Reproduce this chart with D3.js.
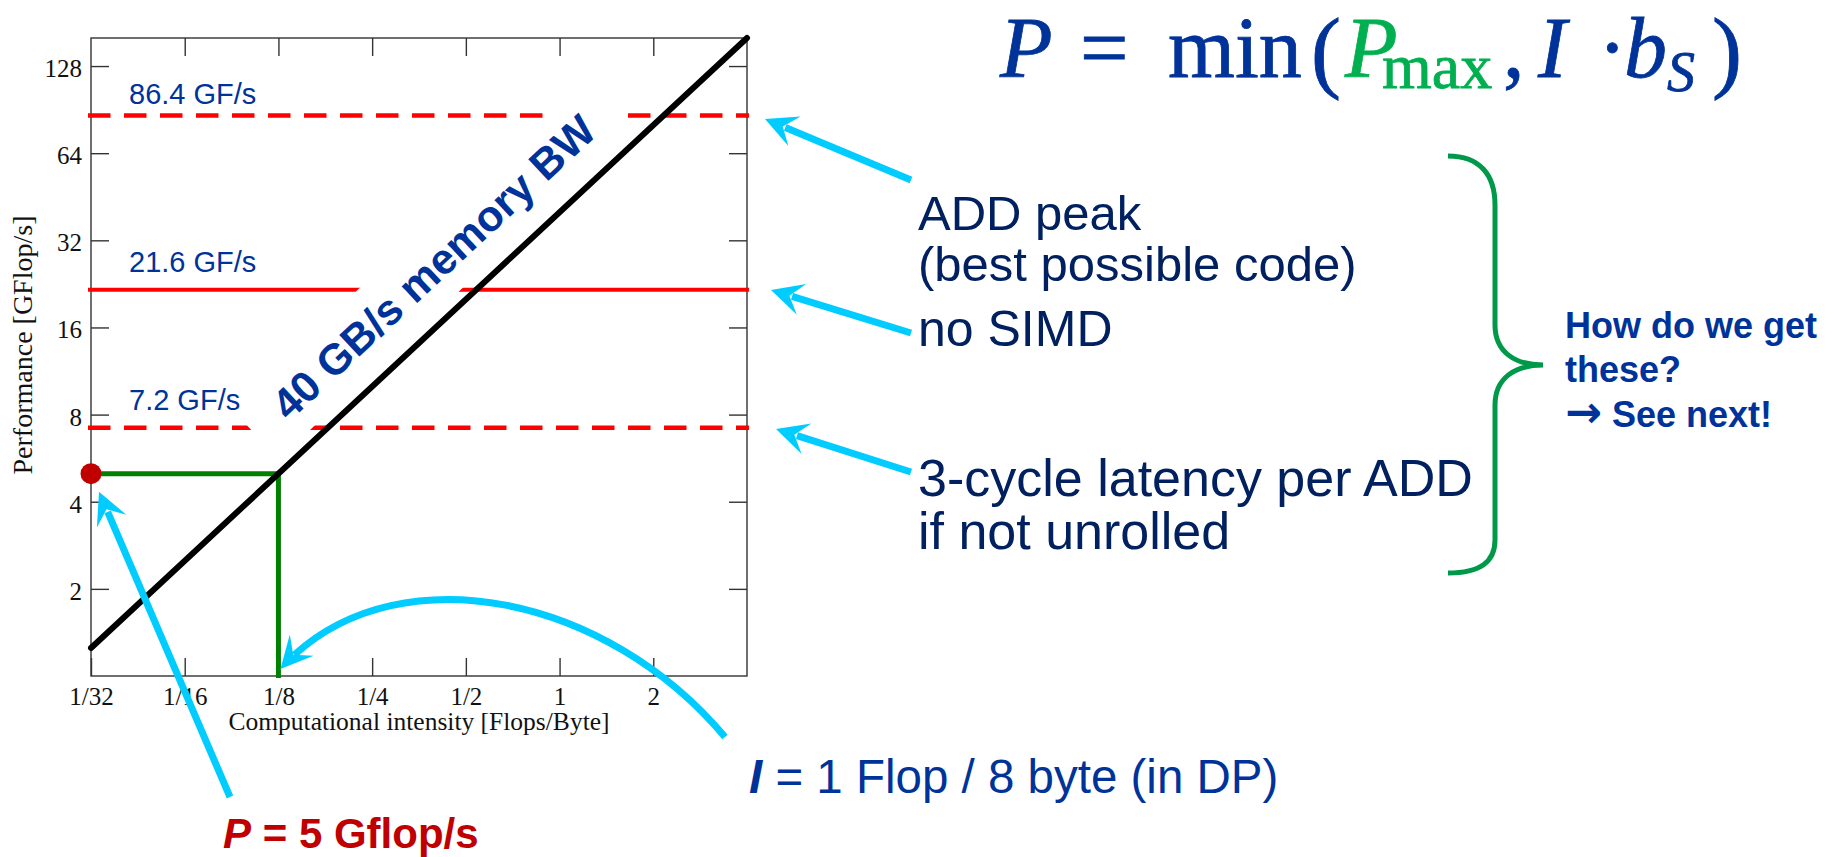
<!DOCTYPE html>
<html>
<head>
<meta charset="utf-8">
<script src="https://cdn.jsdelivr.net/npm/d3@7"></script>
<style>
  html, body { margin: 0; padding: 0; background: #fff; overflow: hidden; }
  svg { display: block; }
</style>
</head>
<body>
<svg id="chart" width="1839" height="857"></svg>
<script>
// ---- Roofline data ----
const xTicks = [1/32, 1/16, 1/8, 1/4, 1/2, 1, 2];
const xTickLabels = ["1/32", "1/16", "1/8", "1/4", "1/2", "1", "2"];
const yTicks = [2, 4, 8, 16, 32, 64, 128];
const yTickLabels = ["2", "4", "8", "16", "32", "64", "128"];
const xDomain = [1/32, 4];          // Flops/Byte
const yDomain = [1, 160];           // GFlop/s
const memBandwidth = 40;            // GB/s
const bwIntensity = [1/32, 4];      // end points of the bandwidth roof
const ceilingValues = [86.4, 21.6, 7.2];
const ceilingLabels = ["86.4 GF/s", "21.6 GF/s", "7.2 GF/s"];
const ceilingDashed = [true, false, true];
const kernelIntensity = 1/8;        // 1 Flop / 8 byte
const kernelPerf = Math.min(ceilingValues[2], kernelIntensity * memBandwidth); // 5 GFlop/s

// ---- Colours ----
const BLUE = "#003399", NAVY = "#002060", CYAN = "#00ccff", RED = "#ff0000",
      DARKRED = "#c00000", GREEN_LINE = "#008000", GREEN = "#00b050", BRACE = "#00994a";

const svg = d3.select("#chart");

const x = d3.scaleLog().base(2).domain(xDomain).range([91, 747]);
const y = d3.scaleLog().base(2).domain(yDomain).range([676, 38]);

// ---- Frame and ticks ----
svg.append("rect")
  .attr("x", x(xDomain[0])).attr("y", y(yDomain[1]))
  .attr("width", x(xDomain[1]) - x(xDomain[0]))
  .attr("height", y(yDomain[0]) - y(yDomain[1]))
  .attr("fill", "none").attr("stroke", "#333").attr("stroke-width", 1.4);

const tickLen = 18;
const axisFont = "'Liberation Serif', 'Times New Roman', serif";

const gx = svg.append("g").attr("transform", `translate(0,${y(yDomain[0])})`)
  .call(d3.axisBottom(x).tickValues(xTicks)
    .tickFormat((d, i) => xTickLabels[i]).tickSizeInner(-tickLen).tickSizeOuter(0).tickPadding(11));
const gxTop = svg.append("g").attr("transform", `translate(0,${y(yDomain[1])})`)
  .call(d3.axisTop(x).tickValues(xTicks.slice(1)).tickFormat("").tickSizeInner(-tickLen).tickSizeOuter(0));
const gy = svg.append("g").attr("transform", `translate(${x(xDomain[0])},0)`)
  .call(d3.axisLeft(y).tickValues(yTicks)
    .tickFormat((d, i) => yTickLabels[i]).tickSizeInner(-tickLen).tickSizeOuter(0).tickPadding(9));
const gyRight = svg.append("g").attr("transform", `translate(${x(xDomain[1])},0)`)
  .call(d3.axisRight(y).tickValues(yTicks).tickFormat("").tickSizeInner(-tickLen).tickSizeOuter(0));

[gx, gxTop, gy, gyRight].forEach(g => {
  g.select(".domain").remove();
  g.selectAll(".tick line").attr("stroke", "#333").attr("stroke-width", 1.4);
  g.selectAll("text").attr("font-family", axisFont).attr("font-size", 25).attr("fill", "#111");
});
gy.selectAll("text").attr("dy", "0.42em");
gx.selectAll("text").attr("dy", "0.71em");

svg.append("text")
  .attr("x", (x(xDomain[0]) + x(xDomain[1])) / 2).attr("y", 730)
  .attr("text-anchor", "middle").attr("font-family", axisFont).attr("font-size", 25.5).attr("fill", "#111")
  .text("Computational intensity [Flops/Byte]");
svg.append("text")
  .attr("transform", `translate(32,${(y(yDomain[0]) + y(yDomain[1])) / 2 - 12}) rotate(-90)`)
  .attr("text-anchor", "middle").attr("font-family", axisFont).attr("font-size", 28).attr("fill", "#111")
  .text("Performance [GFlop/s]");

// ---- Horizontal performance ceilings ----
const sans = "'Liberation Sans', Arial, sans-serif";
ceilingValues.forEach((v, i) => {
  svg.append("line")
    .attr("x1", x(xDomain[0]) - 3).attr("x2", x(xDomain[1]) + 2)
    .attr("y1", y(v)).attr("y2", y(v))
    .attr("stroke", RED)
    .attr("stroke-width", ceilingDashed[i] ? 4.5 : 4)
    .attr("stroke-dasharray", ceilingDashed[i] ? "22.5,13.5" : null);
});

// ---- Operating point of the kernel ----
svg.append("path")
  .attr("d", d3.line()([
    [x(xDomain[0]), y(kernelPerf)],
    [x(kernelIntensity), y(kernelPerf)],
    [x(kernelIntensity), y(yDomain[0]) + 2]
  ]))
  .attr("fill", "none").attr("stroke", GREEN_LINE).attr("stroke-width", 5);

// ---- Bandwidth roof with its label ----
const roof = bwIntensity.map(i => [x(i), y(i * memBandwidth)]);
const ang = Math.atan2(roof[0][1] - roof[1][1], roof[1][0] - roof[0][0]);
const angDeg = ang * 180 / Math.PI;
const labelAnchorI = 0.156;
const ax = x(labelAnchorI), ay = y(labelAnchorI * memBandwidth);
const off = 35.6;
const lab = svg.append("g")
  .attr("transform", `translate(${ax - off * Math.sin(ang)},${ay - off * Math.cos(ang)}) rotate(${-angDeg})`);
lab.append("rect").attr("x", -31).attr("y", -45).attr("width", 487).attr("height", 70).attr("fill", "#fff");

svg.append("path")
  .attr("d", d3.line()(roof))
  .attr("fill", "none").attr("stroke", "#000").attr("stroke-width", 6).attr("stroke-linecap", "round");

lab.append("text").attr("x", 2).attr("y", 5)
  .attr("font-family", sans).attr("font-weight", "bold").attr("font-size", 43).attr("fill", BLUE)
  .text(`${memBandwidth} GB/s memory BW`);

// ceiling value labels sit above everything in the plot
const ceilingLabelGap = [11, 18, 18];
ceilingValues.forEach((v, i) => {
  svg.append("text")
    .attr("x", 129).attr("y", y(v) - ceilingLabelGap[i])
    .attr("font-family", sans).attr("font-size", 29).attr("fill", BLUE)
    .text(ceilingLabels[i]);
});

svg.append("circle")
  .attr("cx", x(xDomain[0])).attr("cy", y(kernelPerf)).attr("r", 10.5)
  .attr("fill", DARKRED);

// ---- Annotation arrows ----
function head(tip, dir, L = 32, W = 16, notch = 0.6) {
  const n = [-dir[1], dir[0]];
  const b = [tip[0] - L * dir[0], tip[1] - L * dir[1]];
  return `M${tip[0]},${tip[1]}L${b[0] + W * n[0]},${b[1] + W * n[1]}` +
         `L${tip[0] - notch * L * dir[0]},${tip[1] - notch * L * dir[1]}` +
         `L${b[0] - W * n[0]},${b[1] - W * n[1]}Z`;
}
function arrow(tail, tip) {
  const dx = tip[0] - tail[0], dy = tip[1] - tail[1], len = Math.hypot(dx, dy);
  const dir = [dx / len, dy / len];
  const end = [tip[0] - 22 * dir[0], tip[1] - 22 * dir[1]];
  svg.append("line").attr("x1", tail[0]).attr("y1", tail[1]).attr("x2", end[0]).attr("y2", end[1])
    .attr("stroke", CYAN).attr("stroke-width", 7);
  svg.append("path").attr("d", head(tip, dir)).attr("fill", CYAN);
}
arrow([911, 180], [765, 119]);
arrow([911, 333], [771, 290]);
arrow([911, 472], [776, 429]);
arrow([230, 797], [x(xDomain[0]) + 8, y(kernelPerf) + 18]);

// curved arrow pointing at I = 1/8
const c0 = [725, 737], c1 = [600, 588], c2 = [385, 552], c3 = [x(kernelIntensity) + 2, y(yDomain[0]) - 7];
const cp = d3.path();
cp.moveTo(...c0);
cp.bezierCurveTo(...c1, ...c2, ...c3);
const curve = svg.append("path").attr("d", cp.toString())
  .attr("fill", "none").attr("stroke", CYAN).attr("stroke-width", 7);
const total = curve.node().getTotalLength();
curve.attr("stroke-dasharray", `${total - 20},${total}`);
{
  const dx = c3[0] - c2[0], dy = c3[1] - c2[1], l = Math.hypot(dx, dy);
  svg.append("path").attr("d", head(c3, [dx / l, dy / l])).attr("fill", CYAN);
}

// ---- Explanatory text ----
function lines(x0, baselines, texts, size, color, weight) {
  texts.forEach((t, i) => {
    svg.append("text").attr("x", x0).attr("y", baselines[i])
      .attr("font-family", sans).attr("font-size", size).attr("fill", color)
      .attr("font-weight", weight || "normal").text(t);
  });
}
lines(918, [230, 281], ["ADD peak", "(best possible code)"], 49, NAVY);
lines(918, [346], ["no SIMD"], 50, NAVY);
lines(918, [496, 549], ["3-cycle latency per ADD", "if not unrolled"], 52, NAVY);

// I = 1 Flop / 8 byte
const tI = svg.append("text").attr("x", 749).attr("y", 793)
  .attr("font-family", sans).attr("font-size", 47.5).attr("fill", BLUE);
tI.append("tspan").attr("font-style", "italic").attr("font-weight", "bold").text("I");
tI.append("tspan").text(" = 1 Flop / 8 byte (in DP)");

// P = 5 Gflop/s
const tP = svg.append("text").attr("x", 223).attr("y", 848)
  .attr("font-family", sans).attr("font-size", 42).attr("font-weight", "bold").attr("fill", DARKRED);
tP.append("tspan").attr("font-style", "italic").text("P");
tP.append("tspan").text(` = ${kernelPerf} Gflop/s`);

// brace and question
svg.append("path")
  .attr("d", "M1448,156 C1480,156 1495,175 1495,205 L1495,325 C1495,352 1515,365 1543,365 " +
             "C1515,365 1495,378 1495,405 L1495,540 C1495,562 1480,573 1448,573")
  .attr("fill", "none").attr("stroke", BRACE).attr("stroke-width", 5);
lines(1565, [338, 382], ["How do we get", "these?"], 36, BLUE, "bold");
const tN = svg.append("text").attr("x", 1565).attr("y", 427)
  .attr("font-family", sans).attr("font-size", 36).attr("font-weight", "bold").attr("fill", BLUE);
tN.append("tspan").attr("font-family", "'DejaVu Sans', sans-serif").attr("font-size", 44).text("\u2192");
tN.append("tspan").text(" See next!");

// formula P = min(Pmax, I · bS), one text element with positioned pieces
const mathFont = "'Liberation Serif', 'Times New Roman', serif";
const formula = [
  { t: "P",   x: 1000, s: 86, b: 77, i: true,  c: BLUE },
  { t: "=",   x: 1080, s: 86, b: 77, i: false, c: BLUE },
  { t: "min", x: 1168, s: 86, b: 77, i: false, c: BLUE },
  { t: "(",   x: 1311, s: 90, b: 81, i: false, c: BLUE },
  { t: "P",   x: 1345, s: 86, b: 77, i: true,  c: GREEN },
  { t: "max", x: 1382, s: 64, b: 88, i: false, c: GREEN },
  { t: ",",   x: 1503, s: 86, b: 77, i: false, c: BLUE },
  { t: "I",   x: 1538, s: 86, b: 77, i: true,  c: BLUE },
  { t: "\u00b7", x: 1598, s: 86, b: 77, i: false, c: BLUE },
  { t: "b",   x: 1624, s: 86, b: 77, i: true,  c: BLUE },
  { t: "S",   x: 1667, s: 56, b: 91, i: true,  c: BLUE },
  { t: ")",   x: 1712, s: 90, b: 81, i: false, c: BLUE }
];
svg.append("text").attr("font-family", mathFont).attr("stroke-width", 0.8)
  .selectAll("tspan").data(formula).join("tspan")
  .attr("x", d => d.x).attr("y", d => d.b)
  .attr("font-size", d => d.s)
  .attr("font-style", d => d.i ? "italic" : "normal")
  .attr("fill", d => d.c).attr("stroke", d => d.c)
  .text(d => d.t);
</script>
</body>
</html>
